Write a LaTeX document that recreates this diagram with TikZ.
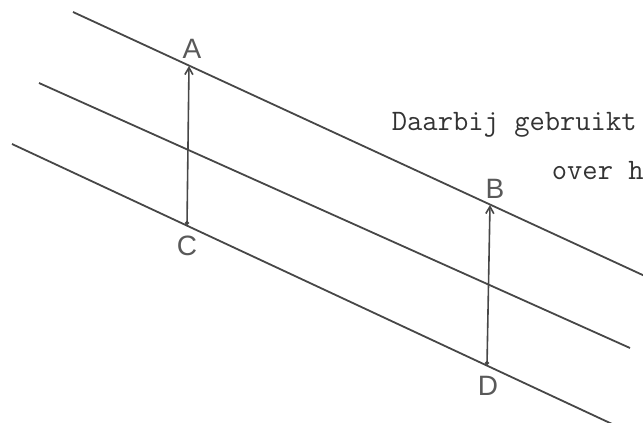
\documentclass[tikz,border=0pt]{standalone}
\usepackage{fontspec}
\newfontfamily\lblfont{Liberation Sans}
\usetikzlibrary{arrows.meta}

\begin{document}
\begin{tikzpicture}[x=1pt, y=-1pt, line width=1.8pt, black!72,
  lbl/.style={font=\lblfont\fontsize{28}{30}\selectfont, text=black!65, inner sep=0pt},
  txt/.style={font=\ttfamily\fontsize{29.7}{32}\selectfont, text=black!80, anchor=base west, inner sep=0pt},
  vec/.style={line width=1.6pt, {Circle[length=4pt]}-{Straight Barb[length=7pt,width=8pt]}}]
  \useasboundingbox (0,0) rectangle (643,423);
  \clip (0,0) rectangle (643,423);

  % three parallel lines
  \draw (73,12) -- (660,283);
  \draw (39,83) -- (630,348);
  \draw (12,144) -- (640,437);

  % points on the outer lines
  \coordinate (A) at (189,66);
  \coordinate (C) at (187,225);
  \coordinate (B) at (490,205);
  \coordinate (D) at (487,365);
  \draw[vec] (C) -- (A);
  \draw[vec] (D) -- (B);

  \node[lbl] (labA) at (192,49) {A};
  \node[lbl] (labC) at (187,246) {C};
  \node[lbl] (labB) at (495,189) {B};
  \node[lbl] (labD) at (488,386) {D};

  \node[txt] (t1) at (391,130) {Daarbij gebruikt};
  \node[txt] (t2) at (551,179) {over h};
\end{tikzpicture}
\end{document}
